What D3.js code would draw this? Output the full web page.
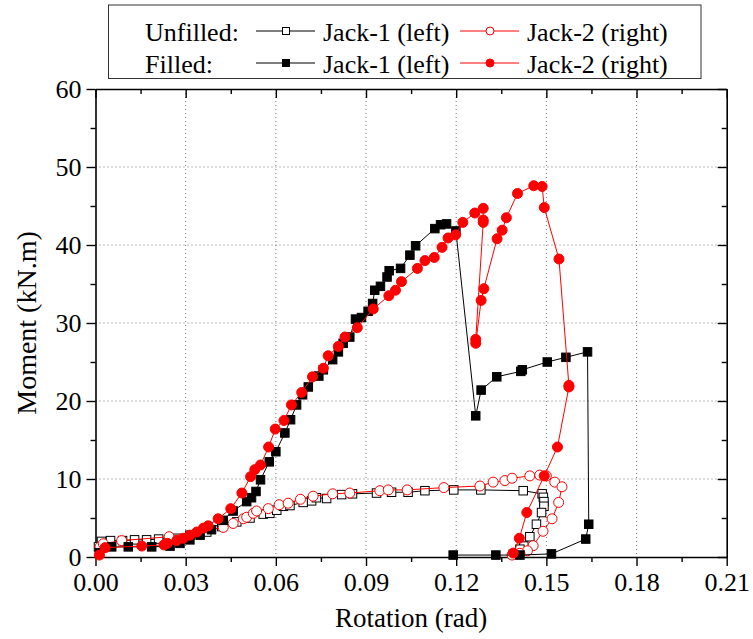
<!DOCTYPE html>
<html>
<head>
<meta charset="utf-8">
<script src="https://cdn.jsdelivr.net/npm/d3@7"></script>
<style>
  body { margin: 0; background: #fff; }
  text { font-family: "Liberation Serif", "Times New Roman", serif; fill: #000; }
</style>
</head>
<body>
<div id="chart"></div>
<script>
// data: [rotation (rad), moment (kN.m)]
const unfilledJack1 = [
  [0.001,1.3],[0.002,2.0],[0.005,2.1],[0.009,2.1],[0.013,2.2],[0.017,2.2],[0.021,2.3],[0.027,2.4],
  [0.0314,2.8],[0.037,3.2],[0.042,3.9],[0.047,4.5],[0.0514,5.0],[0.0558,5.5],[0.058,5.6],[0.0603,6.0],
  [0.0625,6.5],[0.0647,6.6],[0.0691,7.0],[0.0719,7.2],[0.0735,7.6],[0.0769,7.5],[0.0819,8.0],[0.0855,8.1],
  [0.0935,8.2],[0.0985,8.3],[0.104,8.3],[0.1096,8.5],[0.1192,8.6],[0.1282,8.6],[0.1423,8.5],[0.1486,8.1],
  [0.149,7.65],[0.1492,7.1],[0.1492,6.5],[0.1484,5.7],[0.1467,4.2],[0.1445,2.6],[0.1425,1.4],[0.1412,1.0],
  [0.139,0.35]
];

const unfilledJack2 = [
  [0.0015,1.3],[0.0026,1.7],[0.0087,2.1],[0.0245,2.6],[0.0425,3.8],[0.0458,4.3],[0.0492,4.9],[0.0503,5.1],
  [0.0525,5.6],[0.0536,5.9],[0.0575,6.2],[0.0611,6.7],[0.0641,6.9],[0.0682,7.4],[0.0724,7.8],[0.0789,8.1],
  [0.0846,8.2],[0.0946,8.5],[0.0974,8.6],[0.1037,8.6],[0.1159,8.9],[0.1279,9.1],[0.1323,9.6],[0.1362,9.8],
  [0.1386,10.1],[0.1445,10.4],[0.1478,10.5],[0.15,10.4],[0.1528,9.6],[0.1552,9.0],[0.1541,7.0],[0.1519,4.9],
  [0.1489,3.3],[0.1456,1.45],[0.1437,0.8],[0.1412,0.47],[0.1386,0.25]
];

const filledJack1 = [
  [0.0013,0.55],[0.0054,1.3],[0.0109,1.3],[0.0187,1.3],[0.0248,1.4],[0.0281,1.75],[0.0314,2.2],[0.0348,2.8],
  [0.0386,3.5],[0.0425,4.7],[0.0458,5.9],[0.0503,7.1],[0.0519,7.6],[0.0534,8.4],[0.0549,9.9],[0.0578,12.2],
  [0.06,13.5],[0.063,15.9],[0.0649,17.6],[0.0669,19.5],[0.0689,20.8],[0.0708,21.8],[0.0743,23.2],[0.0758,24.0],
  [0.0789,25.3],[0.0808,26.3],[0.0824,27.4],[0.0846,28.2],[0.0865,30.5],[0.0885,30.7],[0.0907,31.5],[0.0922,32.5],
  [0.0929,34.2],[0.0948,34.7],[0.097,35.9],[0.0977,36.7],[0.1015,37.0],[0.1046,38.7],[0.1065,39.9],[0.1129,42.1],
  [0.1148,42.6],[0.1168,42.7],[0.1199,41.8],[0.1265,18.1],[0.1283,21.4],[0.1335,23.1],[0.1415,23.8],[0.142,24.0],
  [0.1503,25.0],[0.1565,25.6],[0.1637,26.3],[0.1641,4.2],[0.1631,2.3],[0.1517,0.4],[0.1412,0.25],[0.1332,0.25],
  [0.119,0.25]
];

const filledJack2 = [
  [0.0013,0.25],[0.0032,1.2],[0.0154,1.4],[0.0228,1.55],[0.0239,1.75],[0.027,2.1],[0.0292,2.4],[0.0314,2.8],
  [0.0337,3.2],[0.0359,3.7],[0.0375,4.0],[0.0408,4.9],[0.045,6.2],[0.0487,8.2],[0.0516,10.3],[0.053,11.2],
  [0.0549,11.8],[0.0576,14.1],[0.0598,16.4],[0.0627,17.5],[0.0652,19.5],[0.0686,21.1],[0.0722,23.1],[0.0758,24.2],
  [0.0774,25.8],[0.0808,27.0],[0.083,28.2],[0.0871,29.4],[0.0924,31.8],[0.0976,33.5],[0.0998,34.2],[0.1018,35.3],
  [0.1071,37.0],[0.1096,38.0],[0.1127,38.4],[0.1153,39.7],[0.1173,40.9],[0.1198,41.3],[0.1222,42.9],[0.1262,44.1],
  [0.129,44.7],[0.129,43.2],[0.129,42.9],[0.1265,27.9],[0.1265,27.4],[0.1283,32.9],[0.1292,34.4],[0.1336,40.8],
  [0.1353,41.9],[0.1367,43.5],[0.1404,46.6],[0.1458,47.6],[0.1486,47.5],[0.1493,44.8],[0.1542,38.2],[0.1575,22.0],
  [0.1575,21.8],[0.1537,14.1],[0.1493,10.4],[0.1435,5.7],[0.141,2.4],[0.139,0.5]
];

const xTicks = [0, 0.03, 0.06, 0.09, 0.12, 0.15, 0.18, 0.21];
const yTicks = [0, 10, 20, 30, 40, 50, 60];
const xMinorTicks = [0.015, 0.045, 0.075, 0.105, 0.135, 0.165, 0.195];
const yMinorTicks = [5, 15, 25, 35, 45, 55];

const W = 753, H = 639;
const margin = { TOP: 89, BOTTOM: 82, LEFT: 95.5, RIGHT: 26.3 };
const w = W - margin.LEFT - margin.RIGHT;
const h = H - margin.TOP - margin.BOTTOM;

const svg = d3.select("#chart").append("svg")
  .attr("width", W)
  .attr("height", H);

const g = svg.append("g")
  .attr("transform", `translate(${margin.LEFT}, ${margin.TOP})`);

const xScale = d3.scaleLinear().domain([0, 0.21]).range([0, w]);
const yScale = d3.scaleLinear().domain([0, 60]).range([h, 0]);

//grid
g.append("g").selectAll("line")
  .data(xTicks.slice(1, -1))
  .join("line")
    .attr("x1", d => xScale(d)).attr("x2", d => xScale(d))
    .attr("y1", 0).attr("y2", h)
    .style("stroke", "#777").style("stroke-width", 1).style("stroke-dasharray", "1,3");

g.append("g").selectAll("line")
  .data(yTicks.slice(1, -1))
  .join("line")
    .attr("y1", d => yScale(d)).attr("y2", d => yScale(d))
    .attr("x1", 0).attr("x2", w)
    .style("stroke", "#777").style("stroke-width", 1).style("stroke-dasharray", "1,3");

//axes (bottom/left outward, top/right inward)
const fmtX = d3.format(".2f");

function styleAxis(sel) {
  sel.selectAll("path").style("stroke", "#000").style("stroke-width", 1.6);
  sel.selectAll("line").style("stroke", "#000").style("stroke-width", 1.4);
  sel.selectAll("text").style("font-size", "26px").style("font-family", '"Liberation Serif", serif');
}

function minor(axisFn, scale, ticks, size) {
  return axisFn(scale).tickValues(ticks).tickSize(size).tickFormat("");
}

const xAxisGroup = g.append("g").attr("transform", `translate(0, ${h})`);
xAxisGroup.call(d3.axisBottom(xScale).tickValues(xTicks).tickSize(9).tickSizeOuter(0).tickPadding(7).tickFormat(fmtX));
xAxisGroup.append("g").call(minor(d3.axisBottom, xScale, xMinorTicks, 5)).select("path").remove();
styleAxis(xAxisGroup);

const yAxisGroup = g.append("g");
yAxisGroup.call(d3.axisLeft(yScale).tickValues(yTicks).tickSize(9).tickSizeOuter(0).tickPadding(5).tickFormat(d => d));
yAxisGroup.append("g").call(minor(d3.axisLeft, yScale, yMinorTicks, 5)).select("path").remove();
styleAxis(yAxisGroup);

const topGroup = g.append("g");
topGroup.call(d3.axisTop(xScale).tickValues(xTicks).tickSize(-9).tickSizeOuter(0).tickFormat(""));
topGroup.append("g").call(minor(d3.axisTop, xScale, xMinorTicks, -5)).select("path").remove();
styleAxis(topGroup);

const rightGroup = g.append("g").attr("transform", `translate(${w}, 0)`);
rightGroup.call(d3.axisRight(yScale).tickValues(yTicks).tickSize(-9).tickSizeOuter(0).tickFormat(""));
rightGroup.append("g").call(minor(d3.axisRight, yScale, yMinorTicks, -5)).select("path").remove();
styleAxis(rightGroup);

//axis titles
svg.append("text")
  .attr("x", margin.LEFT + w / 2)
  .attr("y", 627)
  .attr("text-anchor", "middle")
  .style("font-size", "27px")
  .text("Rotation (rad)");

svg.append("text")
  .attr("transform", `translate(36, ${margin.TOP + h / 2}) rotate(-90)`)
  .attr("text-anchor", "middle")
  .style("font-size", "28px")
  .text("Moment (kN.m)");

//series
const line = d3.line().x(d => xScale(d[0])).y(d => yScale(d[1]));

const series = [
  { data: unfilledJack1, color: "#000", shape: "square", fill: "#fff" },
  { data: unfilledJack2, color: "#f00", shape: "circle", fill: "#fff" },
  { data: filledJack1, color: "#000", shape: "square", fill: "#000" },
  { data: filledJack2, color: "#f00", shape: "circle", fill: "#f00" }
];

function drawMarker(sel, s, size) {
  if (s.shape === "square") {
    sel.append("rect")
      .attr("x", -size / 2).attr("y", -size / 2)
      .attr("width", size).attr("height", size)
      .style("fill", s.fill).style("stroke", s.color).style("stroke-width", 1);
  } else {
    sel.append("circle")
      .attr("r", size / 2)
      .style("fill", s.fill).style("stroke", s.color).style("stroke-width", 1);
  }
}

series.forEach(s => {
  g.append("path")
    .datum(s.data)
    .attr("d", line)
    .style("fill", "none")
    .style("stroke", s.color)
    .style("stroke-width", 1);

  g.append("g").selectAll("g")
    .data(s.data)
    .join("g")
      .attr("transform", d => `translate(${xScale(d[0])}, ${yScale(d[1])})`)
      .each(function() { drawMarker(d3.select(this), s, s.shape === "square" ? 8.5 : 10); });
});

//legend
const legend = svg.append("g");
legend.append("rect")
  .attr("x", 108.5).attr("y", 5)
  .attr("width", 592.5).attr("height", 73.5)
  .style("fill", "#fff").style("stroke", "#333").style("stroke-width", 1);

const legendRows = [
  { label: "Unfilled:", y: 31, items: [series[0], series[1]] },
  { label: "Filled:", y: 63, items: [series[2], series[3]] }
];
const legendNames = ["Jack-1 (left)", "Jack-2 (right)"];
const sampleX = [256, 460];

legendRows.forEach(row => {
  legend.append("text")
    .attr("x", 145).attr("y", row.y + 9.5)
    .style("font-size", "26px")
    .text(row.label);

  row.items.forEach((s, i) => {
    legend.append("line")
      .attr("x1", sampleX[i]).attr("x2", sampleX[i] + 59)
      .attr("y1", row.y).attr("y2", row.y)
      .style("stroke", s.color).style("stroke-width", 1);
    const m = legend.append("g").attr("transform", `translate(${sampleX[i] + 30}, ${row.y})`);
    drawMarker(m, s, s.shape === "square" ? 7 : 8);
    legend.append("text")
      .attr("x", sampleX[i] + 67).attr("y", row.y + 9.5)
      .style("font-size", "26px")
      .text(legendNames[i]);
  });
});
</script>
</body>
</html>
